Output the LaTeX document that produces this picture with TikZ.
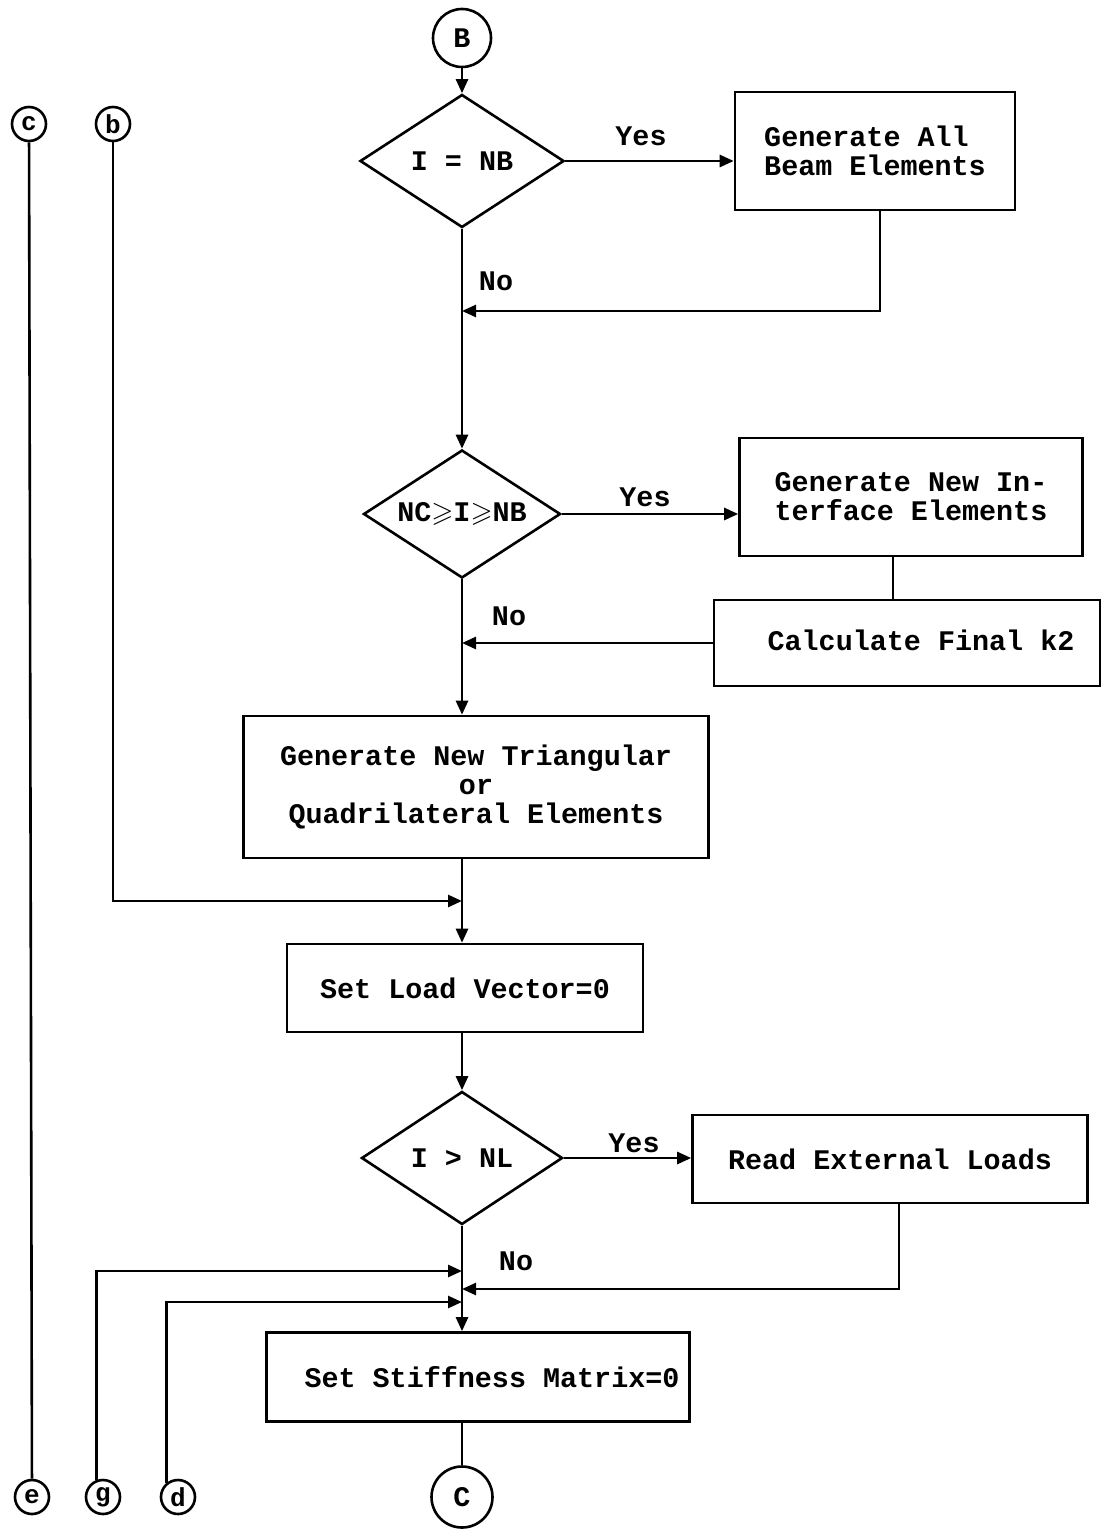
\documentclass[tikz,border=0pt]{standalone}
\usepackage{fontspec}
\usepackage{amssymb}
\setmonofont{Liberation Mono}
\usetikzlibrary{shapes.geometric,arrows.meta,calc}

\begin{document}
\begin{tikzpicture}[x=0.5pt,y=-0.5pt,
  line width=1.3pt,
  txt/.style={font=\ttfamily\bfseries\fontsize{14.2}{14.5}\selectfont},
  proc/.style={txt,draw,rectangle,inner sep=0pt,align=center},
  test/.style={txt,draw,diamond,inner sep=0pt,shape aspect=1.5},
  conn/.style={txt,draw,circle,inner sep=0pt,minimum size=29pt},
  offp/.style={draw,circle,inner sep=0pt,minimum size=17pt,
    font=\ttfamily\bfseries\fontsize{13}{13}\selectfont},
  lbl/.style={txt},
  arr/.style={-{Triangle[length=7pt,width=6pt]}}]

\useasboundingbox (0,0) rectangle (1102,1529);

% main column
\coordinate (sp) at (462,0);

\node[conn] (B) at (462,38) {B};
\node[test,minimum width=102pt,minimum height=66.5pt] (d1) at (462,161) {I = NB};
\node[proc,align=left,minimum width=140pt,minimum height=59pt] (g1) at (875,151)
  {Generate All\\Beam Elements};

\node[test,minimum width=98.5pt,minimum height=64pt] (d2) at (462,514)
  {NC$\geqslant$I$\geqslant$NB};
\node[proc,minimum width=171.5pt,minimum height=59pt] (g2) at (911,497)
  {Generate New In-\\terface Elements};
\node[proc,minimum width=193pt,minimum height=43pt] (k2) at (907,643)
  {\hspace*{14pt}\raisebox{3pt}{Calculate Final k2}};

\node[proc,minimum width=232.5pt,minimum height=71pt] (g3) at (476,787)
  {Generate New Triangular\\or\\Quadrilateral Elements};
\node[proc,minimum width=178pt,minimum height=44pt] (lv) at (465,988)
  {Set Load Vector=0};

\node[test,minimum width=100.5pt,minimum height=66.5pt] (d3) at (462,1158) {I > NL};
\node[proc,minimum width=197.5pt,minimum height=44pt] (rl) at (890,1159)
  {Read External Loads};

\node[proc,minimum width=211.5pt,minimum height=44.5pt] (sm) at (478,1377)
  {\hspace*{14pt}Set Stiffness Matrix=0};
\node[conn,minimum size=30.5pt] (C) at (462,1497) {C};

% off-page connectors
\node[offp] (c) at (29,124) {c};
\node[offp] (b) at (113,124) {b};
\node[offp] (e) at (32,1497) {e};
\node[offp] (g) at (103,1497) {g};
\node[offp] (dd) at (178,1497) {d};

% junctions on the main column
\coordinate (j1) at (462,311);
\coordinate (jb) at (462,901);
\coordinate (jg) at (462,1271);
\coordinate (jr) at (462,1289);
\coordinate (jd) at (462,1302);

% branch labels
\node[lbl] (y1) at (641,136) {Yes};
\node[lbl] (n1) at (496,281) {No};
\node[lbl] (y2) at (645,497) {Yes};
\node[lbl] (n2) at (509,616) {No};
\node[lbl] (y3) at (634,1143) {Yes};
\node[lbl] (n3) at (516,1261) {No};

% connectors
\draw[arr] (B) -- (d1);
\draw[arr] (d1.east) -- (d1.east -| g1.west);
\draw[arr] ([xshift=2.5pt]g1.south) |- (j1);
\draw[arr] (d1.south) -- (d2.north);

\draw[arr] (d2.east) -- (d2.east -| g2.west);
\draw ([xshift=-9pt]g2.south) -- ([xshift=-9pt]g2.south |- k2.north);
\draw[arr] (k2.west) -- (k2.west -| sp);
\draw[arr] (d2.south) -- (sp |- g3.north);

\draw (sp |- g3.south) -- (jb);
\draw[arr] (b) |- (jb);
\draw[arr] (jb) -- (sp |- lv.north);
\draw[arr] (sp |- lv.south) -- (d3.north);

\draw[arr] (d3.east) -- (d3.east -| rl.west);
\draw[arr] ([xshift=4.5pt]rl.south) |- (jr);
\draw[arr] (g.110) |- (jg);
\draw[arr] (dd.128) |- (jd);
\draw[arr] (d3.south) -- (sp |- sm.north);
\draw (sp |- sm.south) -- (C);

\draw (c) -- (e);
\end{tikzpicture}
\end{document}
